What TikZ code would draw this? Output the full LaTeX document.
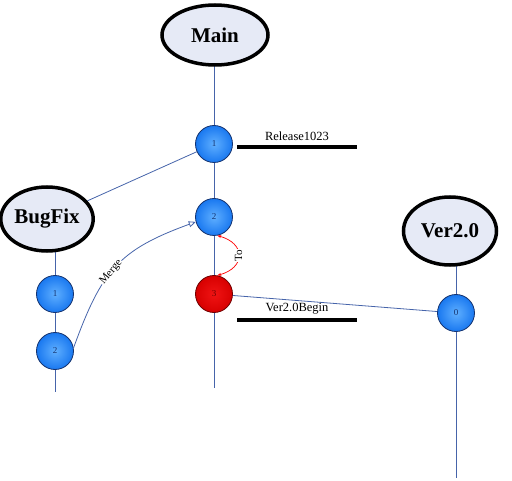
\documentclass[tikz,border=0pt]{standalone}
\usepackage{fontspec}
\setmainfont{Liberation Serif}
\usepackage{tikz}
\usetikzlibrary{shapes.geometric,arrows.meta,backgrounds}
\definecolor{trunkblue}{RGB}{70,100,170}
\definecolor{headfill}{RGB}{230,234,246}
\definecolor{revedge}{RGB}{20,50,110}

\begin{document}
\begin{tikzpicture}[x=1pt, y=1pt,
    branch/.style={ellipse, draw=black, line width=3.5pt, fill=headfill, inner sep=0pt,
        font=\fontsize{21}{24}\selectfont\bfseries},
    rev/.style={circle, draw=revedge, line width=0.8pt, minimum size=37pt, inner sep=0pt,
        inner color={rgb,255:red,95;green,175;blue,255}, outer color={rgb,255:red,25;green,120;blue,240},
        font=\fontsize{9}{10}\selectfont, text=revedge},
    redrev/.style={draw={rgb,255:red,110;green,0;blue,0},
        inner color={rgb,255:red,240;green,20;blue,20}, outer color={rgb,255:red,215;green,0;blue,0},
        text={rgb,255:red,110;green,0;blue,0}},
    trunk/.style={draw=trunkblue, line width=0.8pt},
    lbl/.style={font=\fontsize{12.5}{14}\selectfont},
    tag/.style={line width=4pt}]
    \useasboundingbox (0,0) rectangle (512,480);

    \node[branch, minimum width=106pt, minimum height=60pt] (main) at (215,445) {Main};
    \node[rev] (main_n1) at (214,336) {1};
    \node[rev] (main_n2) at (214,263) {2};
    \node[rev, redrev] (main_n3) at (214,186) {3};
    \coordinate (main_end) at (214,92);

    \node[branch, minimum width=84pt, minimum height=64pt] (bugfix) at (47,261) {BugFix};
    \node[rev] (bug_n1) at (55,186) {1};
    \node[rev] (bug_n2) at (55,129) {2};
    \coordinate (bug_end) at (55,88);

    \node[branch, minimum width=93pt, minimum height=68pt] (ver) at (450,249) {Ver2.0};
    \node[rev] (ver_n0) at (456,167) {0};
    \coordinate (ver_end) at (456,2);

    \node[lbl] (rel_lbl) at (297,344) {Release1023};
    \node[lbl] (begin_lbl) at (297,171) {Ver2.0Begin};
    \draw[tag] ([shift={(-60,-11)}]rel_lbl.center) -- ([shift={(60,-11)}]rel_lbl.center);
    \draw[tag] ([shift={(-60,-11)}]begin_lbl.center) -- ([shift={(60,-11)}]begin_lbl.center);

    \begin{scope}[on background layer]
        \draw[trunk] (main.center -| main_n1) -- (main_end);
        \draw[trunk] (bugfix.center -| bug_n1) -- (bug_end);
        \draw[trunk] (ver.center -| ver_n0) -- (ver_end);
        \draw[trunk] (bugfix) -- (main_n1);
        \draw[trunk] (main_n3) -- (ver_n0);
    \end{scope}

    % merge and link arrows
    \draw[trunk, -{Triangle[open, length=7pt, width=6pt]}] (bug_n2.10) to [out=70, in=200, looseness=1.2]
        node[pos=0.45, sloped, fill=white, inner sep=1pt, font=\fontsize{11}{12}\selectfont] {Merge} (main_n2.195);
    \draw[red, line width=0.7pt, {Stealth[length=4pt]}-{Stealth[length=4pt]}] (main_n2.-80) to [out=-15, in=15, looseness=1.9]
        node[pos=0.5, rotate=90, fill=white, inner sep=0.5pt, font=\fontsize{11}{12}\selectfont, text=black] {To} (main_n3.80);
\end{tikzpicture}
\end{document}
